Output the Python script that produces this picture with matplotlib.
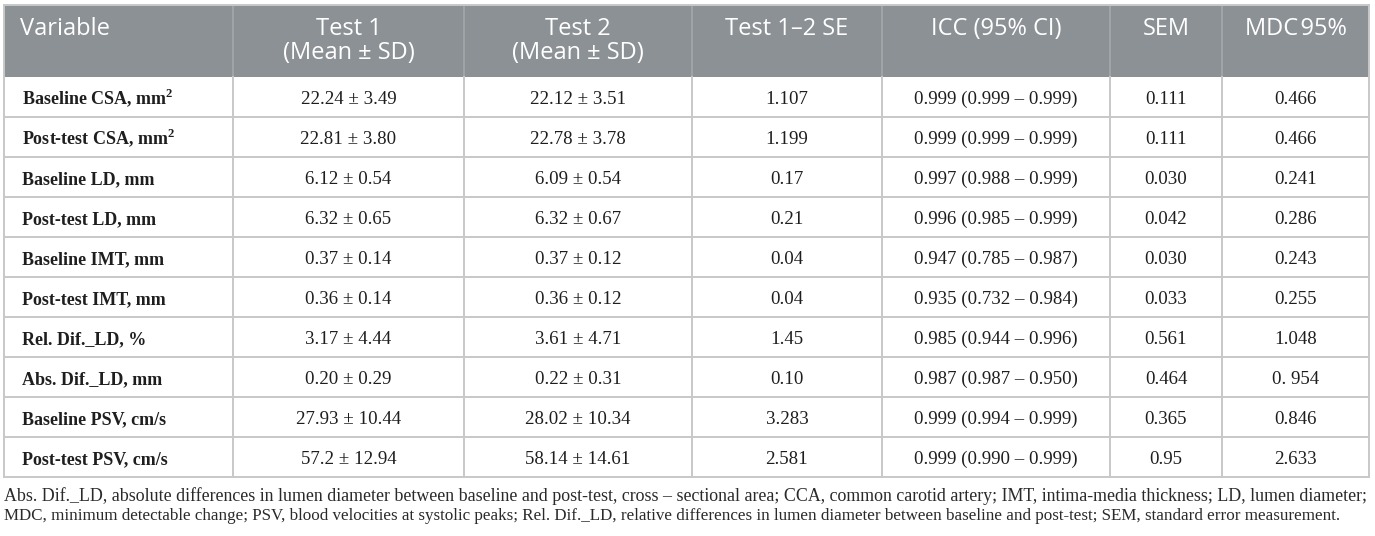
import matplotlib
matplotlib.use("Agg")
import matplotlib.pyplot as plt
from matplotlib.patches import Rectangle

# ---------------- data ----------------
headers = ["Variable", "Test 1\n(Mean \u00b1 SD)", "Test 2\n(Mean \u00b1 SD)", "Test 1\u20132 SE",
           "ICC (95% CI)", "SEM", "MDC\u200a95%"]
variables = ["Baseline CSA, mm$^{\\mathbf{2}}$", "Post-test CSA, mm$^{\\mathbf{2}}$", "Baseline LD, mm",
             "Post-test LD, mm", "Baseline IMT, mm", "Post-test IMT, mm", "Rel. Dif._LD, %",
             "Abs. Dif._LD, mm", "Baseline PSV, cm/s", "Post-test PSV, cm/s"]
test1 = ["22.24 \u00b1 3.49", "22.81 \u00b1 3.80", "6.12 \u00b1 0.54", "6.32 \u00b1 0.65", "0.37 \u00b1 0.14",
         "0.36 \u00b1 0.14", "3.17 \u00b1 4.44", "0.20 \u00b1 0.29", "27.93 \u00b1 10.44", "57.2 \u00b1 12.94"]
test2 = ["22.12 \u00b1 3.51", "22.78 \u00b1 3.78", "6.09 \u00b1 0.54", "6.32 \u00b1 0.67", "0.37 \u00b1 0.12",
         "0.36 \u00b1 0.12", "3.61 \u00b1 4.71", "0.22 \u00b1 0.31", "28.02 \u00b1 10.34", "58.14 \u00b1 14.61"]
se = ["1.107", "1.199", "0.17", "0.21", "0.04", "0.04", "1.45", "0.10", "3.283", "2.581"]
icc = ["0.999 (0.999 \u2013 0.999)", "0.999 (0.999 \u2013 0.999)", "0.997 (0.988 \u2013 0.999)",
       "0.996 (0.985 \u2013 0.999)", "0.947 (0.785 \u2013 0.987)", "0.935 (0.732 \u2013 0.984)",
       "0.985 (0.944 \u2013 0.996)", "0.987 (0.987 \u2013 0.950)", "0.999 (0.994 \u2013 0.999)",
       "0.999 (0.990 \u2013 0.999)"]
sem = ["0.111", "0.111", "0.030", "0.042", "0.030", "0.033", "0.561", "0.464", "0.365", "0.95"]
mdc = ["0.466", "0.466", "0.241", "0.286", "0.243", "0.255", "1.048", "0. 954", "0.846", "2.633"]
footnote = [
    "Abs. Dif._LD, absolute differences in lumen diameter between baseline and post-test, cross \u2013 sectional area; "
    "CCA, common carotid artery; IMT, intima-media thickness; LD, lumen diameter;",
    "MDC, minimum detectable change; PSV, blood velocities at systolic peaks; Rel. Dif._LD, relative differences "
    "in lumen diameter between baseline and post-test; SEM, standard error measurement.",
]

# ---------------- layout ----------------
W, H = 1375, 536
col_edges = [4, 233, 464, 692, 882, 1110, 1222, 1369]
top, header_bottom, row_h = 5, 77, 40
header_bg = "#8c9195"
grid_c = "#c8c8c8"
hdr_sep = "#a3a8ab"
body_c = "#1e1e1e"
foot_widths = [1362, 1331]

plt.rcParams["mathtext.fontset"] = "custom"
plt.rcParams["mathtext.bf"] = "Liberation Serif:bold"
plt.rcParams["mathtext.rm"] = "Liberation Serif"

fig = plt.figure(figsize=(W / 100, H / 100), dpi=100)
ax = fig.add_axes([0, 0, 1, 1])
ax.set_xlim(0, W)
ax.set_ylim(H, 0)
ax.axis("off")

hfont = "Open Sans"
bfont = "Liberation Serif"

# header background
ax.add_patch(Rectangle((col_edges[0], top), col_edges[-1] - col_edges[0], header_bottom - top,
                       facecolor=header_bg, edgecolor="none", zorder=1))
for x in col_edges[1:-1]:
    ax.plot([x, x], [top, header_bottom], color=hdr_sep, lw=1.2, zorder=2)

# header text
for i, h in enumerate(headers):
    lines = h.split("\n")
    for j, ln in enumerate(lines):
        y = 29 + j * 24
        if i == 0:
            ax.text(col_edges[0] + 16, y, ln, ha="left", va="center", color="white",
                    fontsize=17, family=hfont, zorder=3)
        else:
            cx = (col_edges[i] + col_edges[i + 1]) / 2
            ax.text(cx, y, ln, ha="center", va="center", color="white",
                    fontsize=17, family=hfont, zorder=3)

# body
n = len(variables)
bottom = header_bottom + n * row_h
columns = [variables, test1, test2, se, icc, sem, mdc]
for r in range(n):
    yb = header_bottom + (r + 0.5) * row_h + 7
    for c, col in enumerate(columns):
        if c == 0:
            ax.text(col_edges[0] + 18, yb, col[r], ha="left", va="baseline", color=body_c,
                    fontsize=13, family=bfont, fontweight="bold", zorder=3)
        else:
            cx = (col_edges[c] + col_edges[c + 1]) / 2
            ax.text(cx, yb, col[r], ha="center", va="baseline", color=body_c,
                    fontsize=13.6, family=bfont, zorder=3)

# grid lines
for r in range(1, n):
    y = header_bottom + r * row_h
    ax.plot([col_edges[0], col_edges[-1]], [y, y], color=grid_c, lw=1.4, zorder=2)
ax.plot([col_edges[0], col_edges[-1]], [bottom, bottom], color=grid_c, lw=1.4, zorder=2)
for x in col_edges:
    ax.plot([x, x], [header_bottom, bottom], color=grid_c, lw=1.4, zorder=2)
ax.plot([col_edges[0], col_edges[0]], [top, header_bottom], color=grid_c, lw=1.4, zorder=2)
ax.plot([col_edges[-1], col_edges[-1]], [top, header_bottom], color=grid_c, lw=1.4, zorder=2)
ax.plot([col_edges[0], col_edges[-1]], [top, top], color=grid_c, lw=1.4, zorder=2)

# footnote, each line fitted to the reference width
renderer = fig.canvas.get_renderer()
for k, ln in enumerate(footnote):
    fs = 12.8
    t = ax.text(col_edges[0], 501 + k * 19, ln, ha="left", va="baseline", color="#2a2a2a",
                fontsize=fs, family=bfont, zorder=3)
    w = t.get_window_extent(renderer).width
    t.set_fontsize(fs * foot_widths[k] / w)

fig.savefig("out.png", dpi=100, facecolor="white")
